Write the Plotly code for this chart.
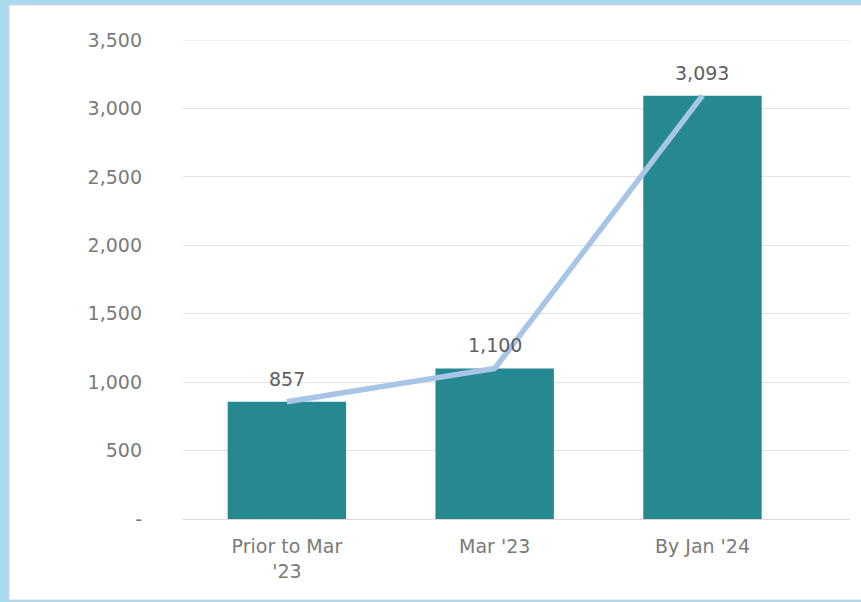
import plotly.graph_objects as go

categories = ["Prior to Mar<br>'23", "Mar '23", "By Jan '24"]
values = [857, 1100, 3093]
value_labels = ["857", "1,100", "3,093"]
y_tickvals = [0, 500, 1000, 1500, 2000, 2500, 3000, 3500]
y_ticktext = ["-", "500", "1,000", "1,500", "2,000", "2,500", "3,000", "3,500"]

FONT = "DejaVu Sans"
x_idx = list(range(len(categories)))

fig = go.Figure()
fig.add_trace(go.Bar(
    x=x_idx, y=values, width=0.57,
    marker=dict(color="#268891", line=dict(width=0)),
    showlegend=False,
))
fig.add_trace(go.Scatter(
    x=x_idx, y=values, mode="lines",
    line=dict(color="#a8c5e8", width=5.5),
    showlegend=False, hoverinfo="skip",
))

for xi, v, lab in zip(x_idx, values, value_labels):
    fig.add_annotation(x=xi, y=v, text=lab, showarrow=False,
                       yanchor="bottom", yshift=10,
                       font=dict(family=FONT, size=19, color="#5f5f5f"))

# white card on the blue backdrop
fig.add_shape(type="rect", xref="paper", yref="paper",
              x0=(9 - 183) / 667, x1=(875 - 183) / 667,
              y0=(519 - 600) / 479, y1=(519 - 5) / 479,
              fillcolor="white", line=dict(color="#d9d9d9", width=1), layer="below")

fig.update_layout(
    width=861, height=602,
    margin=dict(l=183, r=11, t=40, b=83),
    paper_bgcolor="#a9d9ef",
    plot_bgcolor="rgba(0,0,0,0)",
    xaxis=dict(
        range=[-0.5, 2.71], tickvals=x_idx, ticktext=categories,
        showgrid=False, zeroline=False, showline=False, ticks="",
        ticklabelstandoff=14,
        tickfont=dict(family=FONT, size=19, color="#7a7a7a"),
    ),
    yaxis=dict(
        range=[0, 3500], tickvals=y_tickvals, ticktext=y_ticktext,
        showgrid=True, gridcolor="#e3e3e3", gridwidth=1,
        zeroline=True, zerolinecolor="#d9d9d9", zerolinewidth=1,
        showline=False, ticks="",
        ticklabelstandoff=40,
        tickfont=dict(family=FONT, size=19, color="#7a7a7a"),
    ),
)
# 3,500 gridline at the very top edge
fig.add_shape(type="line", xref="paper", yref="y", x0=0, x1=1, y0=3500, y1=3500,
              line=dict(color="#e3e3e3", width=1), layer="below")

fig.write_html("out.html", config={"displayModeBar": False},
               post_script="document.body.style.margin='0';")
